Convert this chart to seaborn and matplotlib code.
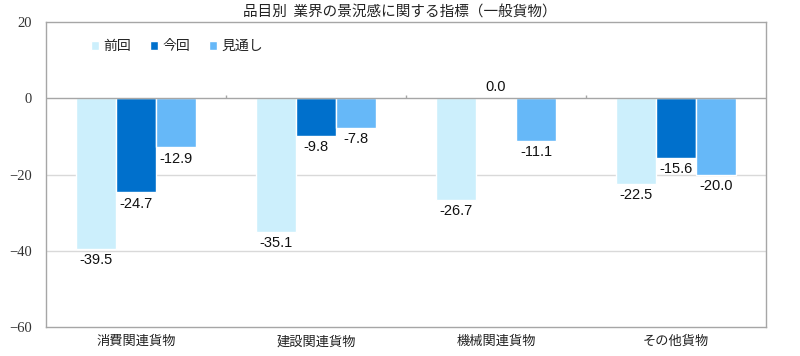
import matplotlib
matplotlib.use("Agg")
import matplotlib.pyplot as plt
import seaborn as sns
import pandas as pd

categories = ["消費関連貨物", "建設関連貨物", "機械関連貨物", "その他貨物"]
series = ["前回", "今回", "見通し"]
prev_vals = [-39.5, -35.1, -26.7, -22.5]
curr_vals = [-24.7, -9.8, 0.0, -15.6]
outlook_vals = [-12.9, -7.8, -11.1, -20.0]
colors = ["#CCEFFC", "#0070CC", "#66B8F8"]
title = "品目別  業界の景況感に関する指標（一般貨物）"
yticks = [20, 0, -20, -40, -60]

rows = []
for s, vals in zip(series, [prev_vals, curr_vals, outlook_vals]):
    for c, v in zip(categories, vals):
        rows.append({"cat": c, "series": s, "value": v})
df = pd.DataFrame(rows)

sns.set_theme(style="white")
plt.rcParams["font.family"] = ["Noto Sans CJK JP", "DejaVu Sans"]
plt.rcParams["axes.unicode_minus"] = True

fig = plt.figure(figsize=(8, 3.56), dpi=100)
ax = fig.add_axes([0.0575, 0.0815, 0.9, 0.8565])

sns.barplot(data=df, x="cat", y="value", hue="series", order=categories,
            hue_order=series, palette=colors, width=0.667, gap=0,
            saturation=1, ax=ax, legend=True, zorder=2)

ax.set_ylim(-60, 20)
ax.set_xlim(-0.5, 3.5)
ax.set_yticks(yticks)
ax.set_yticklabels([f"{t}".replace("-", "\u2212") for t in yticks],
                   family=["Liberation Serif", "DejaVu Serif"], fontsize=10.5, color="#333333")
for t in [-20, -40]:
    ax.axhline(t, color="#D9D9D9", lw=1, zorder=0)
ax.axhline(0, color="#A6A6A6", lw=1, zorder=3)
ax.vlines([0.5, 1.5, 2.5], 0, 0.8, color="#A6A6A6", lw=1, zorder=3)

for sp in ax.spines.values():
    sp.set_color("#A6A6A6")
    sp.set_linewidth(1)
ax.tick_params(axis="y", length=0, pad=10)
ax.tick_params(axis="x", length=0, pad=6, labelsize=9.5, colors="#222222")
ax.set_xlabel("")
ax.set_ylabel("")

for cont in ax.containers:
    for p in cont:
        h = p.get_height()
        xc = p.get_x() + p.get_width() / 2
        if h < 0:
            ax.annotate(f"{h:.1f}", (xc, h), xytext=(0, -3), textcoords="offset points",
                        ha="center", va="top", fontsize=10.5, color="#111111",
                        family=["Liberation Sans", "DejaVu Sans"], zorder=4)
        else:
            ax.annotate(f"{h:.1f}", (xc, h), xytext=(0, 3), textcoords="offset points",
                        ha="center", va="bottom", fontsize=10.5, color="#111111",
                        family=["Liberation Sans", "DejaVu Sans"], zorder=4)

leg = ax.legend(loc="upper left", bbox_to_anchor=(0.045, 0.985), ncol=3, frameon=False,
                fontsize=10, handlelength=0.6, handleheight=0.6, handletextpad=0.3,
                columnspacing=1.35)

fig.suptitle(title, y=0.985, fontsize=10.5, color="#222222")

fig.savefig("out.png", dpi=100)
